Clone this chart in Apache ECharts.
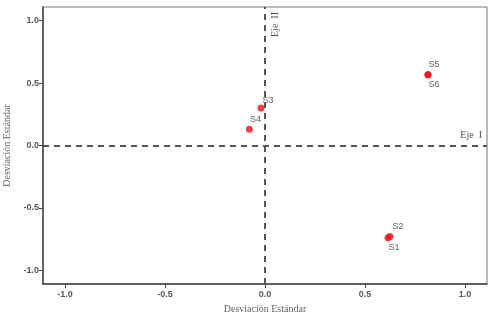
<!DOCTYPE html>
<html>
<head>
<meta charset="utf-8">
<script src="https://cdn.jsdelivr.net/npm/echarts@6/dist/echarts.min.js"></script>
<style>
  html, body { margin: 0; padding: 0; background: #fff; }
  #chart { width: 500px; height: 314px; }
</style>
</head>
<body>
<div id="chart"></div>
<script>
// puntos (sitios) y sus coordenadas en los dos ejes
const names = ["S1", "S2", "S3", "S4", "S5", "S6"];
const ejeI = [0.615, 0.625, -0.02, -0.078, 0.815, 0.815];
const ejeII = [-0.74, -0.73, 0.30, 0.13, 0.568, 0.568];
// donde va cada etiqueta respecto al punto
const labelPos = ["bottom", "top", "top", "top", "top", "bottom"];
const labelOffset = [[6, 0], [8, 0], [7, 2], [6, 0], [6, 0], [6, 0]];

const chart = echarts.init(document.getElementById("chart"));

const points = names.map((n, i) => ({
  name: n,
  value: [ejeI[i], ejeII[i]],
  label: { position: labelPos[i], offset: labelOffset[i] },
}));

const axisCommon = {
  type: "value",
  min: -1.11,
  max: 1.11,
  nameLocation: "middle",
  nameTextStyle: { fontFamily: "Liberation Serif", fontSize: 10, color: "#666" },
  axisLine: { show: true, onZero: false, lineStyle: { color: "#444", width: 1.5 } },
  axisTick: { show: true, length: 4, lineStyle: { color: "#444" } },
  axisLabel: {
    showMinLabel: false,
    showMaxLabel: false,
    fontFamily: "Liberation Sans",
    fontSize: 9,
    fontWeight: "bold",
    color: "#555",
    formatter: (v) => v.toFixed(1),
  },
  splitLine: { show: false },
};

chart.setOption({
  animation: false,
  grid: {
    left: 43, right: 13, top: 7, bottom: 30,
    outerBoundsMode: "none",
    containLabel: false,
    show: true, borderColor: "#777", borderWidth: 1,
  },
  xAxis: Object.assign({}, axisCommon, {
    name: "Desviación Estándar",
    nameGap: 18,
    axisLabel: Object.assign({}, axisCommon.axisLabel, { margin: 6 }),
  }),
  yAxis: Object.assign({}, axisCommon, {
    name: "Desviación Estándar",
    nameGap: 28,
    axisLabel: Object.assign({}, axisCommon.axisLabel, { margin: 4 }),
  }),
  series: [
    {
      type: "scatter",
      symbolSize: 7,
      itemStyle: { color: "#e81018" },
      label: {
        show: true,
        formatter: "{b}",
        fontFamily: "Liberation Sans",
        fontSize: 9,
        color: "#333",
        distance: 2,
      },
      data: points,
      markLine: {
        silent: true,
        symbol: "none",
        lineStyle: { type: [6, 5], color: "#555", width: 2 },
        label: {
          fontFamily: "Liberation Serif",
          fontSize: 10,
          color: "#555",
        },
        data: [
          { yAxis: 0, label: { formatter: "Eje  I", position: "insideEndTop" } },
          { xAxis: 0, label: { formatter: "Eje  II", position: "insideEndBottom" } },
        ],
      },
    },
  ],
});
</script>
</body>
</html>
